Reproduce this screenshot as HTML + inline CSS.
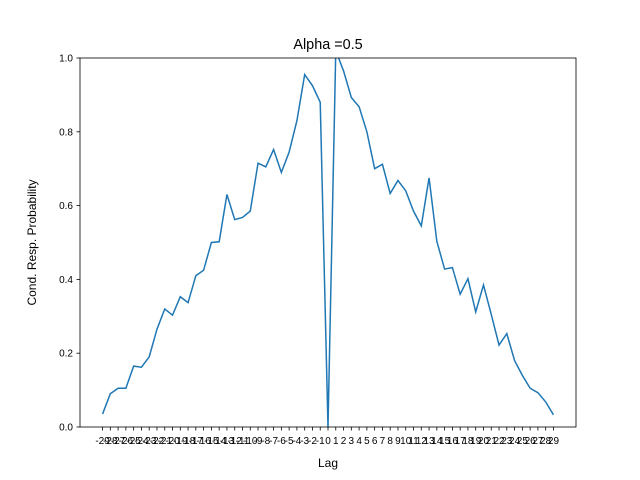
<!DOCTYPE html>
<html><head><meta charset="utf-8"><style>body{margin:0;background:#fff}svg{display:block;font-family:"Liberation Sans","DejaVu Sans",sans-serif}</style></head>
<body>
<svg id="chart" width="640" height="480">
<rect width="640" height="480" fill="#fff"/>
<defs><clipPath id="clip"><rect x="80" y="58" width="496" height="369"/></clipPath></defs>
<text x="328" y="49" text-anchor="middle" font-size="14.4">Alpha =0.5</text>
<g id="xticks"></g><g id="yticks"></g>
<path id="line" fill="none" stroke="#1f77b4" stroke-width="1.5" clip-path="url(#clip)"/>
<rect x="80" y="58" width="496" height="369" fill="none" stroke="#000" stroke-width="0.8"/>
<text x="328" y="467" text-anchor="middle" font-size="12">Lag</text>
<text transform="translate(36,242.5) rotate(-90)" text-anchor="middle" font-size="12">Cond. Resp. Probability</text>
</svg>
<script>
const lags = [];
for (let i = -29; i <= 29; i++) lags.push(i);
const values = [0.035,0.09,0.105,0.105,0.165,0.162,0.19,0.265,0.32,0.303,0.353,0.337,0.41,0.425,0.5,0.502,0.63,0.562,0.568,0.585,0.715,0.705,0.752,0.69,0.745,0.83,0.955,0.925,0.88,0.0,1.02,0.965,0.893,0.868,0.80,0.70,0.712,0.633,0.668,0.64,0.585,0.545,0.675,0.503,0.428,0.432,0.36,0.402,0.312,0.385,0.305,0.222,0.253,0.18,0.14,0.105,0.093,0.068,0.033];
const yTicks = [0.0,0.2,0.4,0.6,0.8,1.0];
const NS='http://www.w3.org/2000/svg';
const xMin=-31.9,xMax=31.9;
const x=v=>80+(v-xMin)/(xMax-xMin)*496;
const y=v=>427-v*369;
const xg=document.getElementById('xticks'), yg=document.getElementById('yticks');
lags.forEach(l=>{
  const t=document.createElementNS(NS,'line');
  t.setAttribute('x1',x(l));t.setAttribute('x2',x(l));t.setAttribute('y1',427);t.setAttribute('y2',430.5);t.setAttribute('stroke','#000');t.setAttribute('stroke-width','0.8');
  
  
  xg.appendChild(t);
  const s=document.createElementNS(NS,'text');
  s.setAttribute('x',x(l));s.setAttribute('y',444);s.setAttribute('text-anchor','middle');s.setAttribute('font-size','10');
  s.textContent=String(l);
  
  
  xg.appendChild(s);
});
yTicks.forEach(v=>{
  const t=document.createElementNS(NS,'line');
  t.setAttribute('x1',76.5);t.setAttribute('x2',80);t.setAttribute('y1',y(v));t.setAttribute('y2',y(v));t.setAttribute('stroke','#000');t.setAttribute('stroke-width','0.8');
  
  
  yg.appendChild(t);
  const s=document.createElementNS(NS,'text');
  s.setAttribute('x',73);s.setAttribute('y',y(v)+3.5);s.setAttribute('text-anchor','end');s.setAttribute('font-size','10');
  s.textContent=v.toFixed(1);
  
  
  yg.appendChild(s);
});
document.getElementById('line').setAttribute('d',lags.map((l,i)=>(i?'L':'M')+x(l).toFixed(2)+','+y(values[i]).toFixed(2)).join(''));
</script>
</body></html>
